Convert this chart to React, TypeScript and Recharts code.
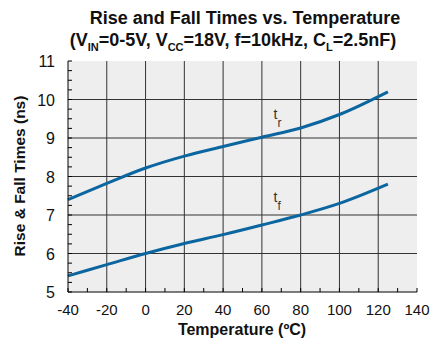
import { LineChart, Line, XAxis, YAxis, ReferenceLine, ReferenceArea, ReferenceDot } from "recharts";

// temperatures (ºC) where the curves were read
const temps = [-40, -20, 0, 20, 40, 60, 80, 100, 125];
const riseTimes = [7.4, 7.82, 8.22, 8.53, 8.78, 9.02, 9.26, 9.61, 10.2];
const fallTimes = [5.42, 5.71, 6.0, 6.26, 6.49, 6.74, 7.0, 7.3, 7.8];

const xTicks = [-40, -20, 0, 20, 40, 60, 80, 100, 120, 140];
const xMinorTicks = [-30, -10, 10, 30, 50, 70, 90, 110, 130];
const yTicks = [5, 6, 7, 8, 9, 10, 11];
const yMinorTicks = yTicks.slice(0, -1).flatMap((v) => [v + 0.25, v + 0.5, v + 0.75]);

const data = temps.map((t, i) => ({ temp: t, tr: riseTimes[i], tf: fallTimes[i] }));

const FONT = "'Liberation Sans', Arial, Helvetica, sans-serif";
const BLUE = "#0b66a0";
const GRID = "#333";

const allX = [...xTicks, ...xMinorTicks].sort((a, b) => a - b);
const allY = [...yTicks, ...yMinorTicks].sort((a, b) => a - b);

function makeTick(side: "left" | "right" | "top" | "bottom") {
  return (props: any) => {
    const { x, y, payload } = props;
    const major = side === "bottom" || side === "left"
      ? (side === "bottom" ? xTicks : yTicks).includes(payload.value)
      : false;
    const len = 4;
    let line;
    if (side === "left") line = <line x1={x} y1={y} x2={x + len} y2={y} stroke="#000" />;
    else if (side === "right") line = <line x1={x} y1={y} x2={x - len} y2={y} stroke="#000" />;
    else if (side === "bottom") line = <line x1={x} y1={y} x2={x} y2={y - len} stroke="#000" />;
    else line = <line x1={x} y1={y} x2={x} y2={y + len} stroke="#000" />;
    return (
      <g>
        {line}
        {major && side === "left" && (
          <text x={x - 13} y={y + 6} textAnchor="end" fontSize={16} fontFamily={FONT} fill="#111">
            {payload.value}
          </text>
        )}
        {major && side === "bottom" && (
          <text x={x} y={y + 23} textAnchor="middle" fontSize={15} fontFamily={FONT} fill="#111">
            {payload.value}
          </text>
        )}
      </g>
    );
  };
}

const curveLabel = (sub: string) => (props: any) => (
  <text x={props.cx} y={props.cy} fontSize={14} fontFamily={FONT} fill="#333">
    t<tspan fontSize={12} dy={8}>{sub}</tspan>
  </text>
);

const titleLine = { position: "absolute" as const, transform: "translateX(-50%)", whiteSpace: "nowrap" as const, fontWeight: "bold", fontSize: 18, lineHeight: "22px", color: "#111" };
const subStyle = { fontSize: 11, lineHeight: 0 };

export default function App() {
  return (
    <div style={{ position: "absolute", left: 0, top: 0, width: 441, height: 343, background: "#fff", fontFamily: FONT }}>
      <div style={{ ...titleLine, left: 245, top: 7 }}>Rise and Fall Times vs. Temperature</div>
      <div style={{ ...titleLine, left: 233, top: 29 }}>
        (V<sub style={subStyle}>IN</sub>=0-5V, V<sub style={subStyle}>CC</sub>=18V, f=10kHz, C<sub style={subStyle}>L</sub>=2.5nF)
      </div>
      <div style={{ position: "absolute", left: 20, top: 176, transform: "translate(-50%, -50%) rotate(-90deg)", whiteSpace: "nowrap", fontWeight: "bold", fontSize: 15.5, color: "#111" }}>
        Rise &amp; Fall Times (ns)
      </div>
      <div style={{ position: "absolute", left: 242, top: 330, transform: "translate(-50%, -50%)", whiteSpace: "nowrap", fontWeight: "bold", fontSize: 16, color: "#111" }}>
        Temperature (ºC)
      </div>
      <LineChart width={441} height={343} data={data} margin={{ top: 61, right: 24, bottom: 0, left: 0 }}>
        <XAxis xAxisId={0} dataKey="temp" type="number" domain={[-40, 140]} ticks={allX} interval={0}
          orientation="bottom" height={51} tickSize={0} tickMargin={0} axisLine={{ stroke: "#000" }} tickLine={false} tick={makeTick("bottom")} />
        <XAxis xAxisId="top" dataKey="temp" type="number" domain={[-40, 140]} ticks={allX} interval={0}
          orientation="top" height={0} tickSize={0} tickMargin={0} axisLine={{ stroke: "#000" }} tickLine={false} tick={makeTick("top")} />
        <YAxis yAxisId={0} type="number" domain={[5, 11]} ticks={allY} interval={0}
          orientation="left" width={68} tickSize={0} tickMargin={0} axisLine={{ stroke: "#000" }} tickLine={false} tick={makeTick("left")} />
        <YAxis yAxisId="right" type="number" domain={[5, 11]} ticks={allY} interval={0}
          orientation="right" width={0} tickSize={0} tickMargin={0} axisLine={{ stroke: "#000" }} tickLine={false} tick={makeTick("right")} />
        <ReferenceArea x1={-40} x2={140} y1={5} y2={11} fill="#eeeeee" fillOpacity={1} stroke="none" />
        {xTicks.slice(1, -1).map((v) => (
          <ReferenceLine key={"x" + v} x={v} stroke={GRID} strokeWidth={1} />
        ))}
        {yTicks.slice(1, -1).map((v) => (
          <ReferenceLine key={"y" + v} y={v} stroke={GRID} strokeWidth={1} />
        ))}
        <Line dataKey="tr" type="monotone" stroke={BLUE} strokeWidth={3} dot={false} isAnimationActive={false} />
        <Line dataKey="tf" type="monotone" stroke={BLUE} strokeWidth={3} dot={false} isAnimationActive={false} />
        <ReferenceDot x={66} y={9.49} r={0} shape={curveLabel("r")} />
        <ReferenceDot x={66} y={7.33} r={0} shape={curveLabel("f")} />
      </LineChart>
    </div>
  );
}
